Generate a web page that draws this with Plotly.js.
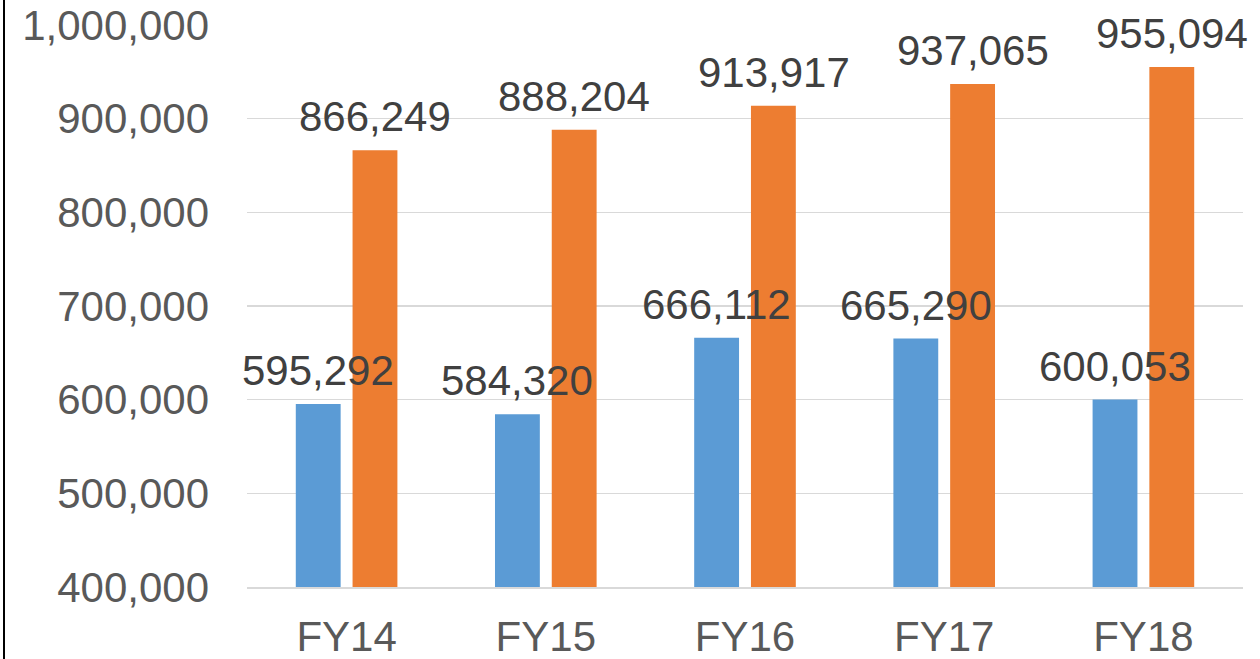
<!DOCTYPE html>
<html>
<head>
<meta charset="utf-8">
<script src="https://cdn.plot.ly/plotly-3.0.1.min.js"></script>
<style>
html,body{margin:0;padding:0;background:#fff;overflow:hidden;}
#chart{width:1260px;height:659px;}
</style>
</head>
<body>
<div id="chart"></div>
<script>
var categories = ["FY14", "FY15", "FY16", "FY17", "FY18"];
var seriesA = [595292, 584320, 666112, 665290, 600053];
var seriesB = [866249, 888204, 913917, 937065, 955094];
var yTicks = [400000, 500000, 600000, 700000, 800000, 900000, 1000000];

var fontFam = "'Liberation Sans', Arial, sans-serif";

function fmt(v){ return v.toLocaleString('en-US'); }

var traces = [
  {
    type: 'bar', x: categories, y: seriesA, name: 'A',
    marker: {color: '#5B9BD5'}, hoverinfo: 'x+y'
  },
  {
    type: 'bar', x: categories, y: seriesB, name: 'B',
    marker: {color: '#ED7D31'}, hoverinfo: 'x+y'
  }
];

// data labels drawn on top of all bars (as in the reference)
var annotations = [];
function addLabels(arr, shift){
  arr.forEach(function(v, i){
    annotations.push({
      x: categories[i], y: v, xref: 'x', yref: 'y',
      text: fmt(v), showarrow: false,
      xanchor: 'center', yanchor: 'bottom',
      xshift: shift, yshift: 8,
      font: {family: fontFam, size: 42, color: '#404040'}
    });
  });
}
addLabels(seriesA, -28.5);
addLabels(seriesB, 28.5);

var layout = {
  width: 1260, height: 659,
  margin: {l: 247, r: 17, t: 25, b: 72, autoexpand: false},
  paper_bgcolor: '#fff', plot_bgcolor: '#fff',
  showlegend: false,
  barmode: 'group', bargap: 0.43, bargroupgap: 0.21,
  font: {family: fontFam, size: 42, color: '#595959'},
  xaxis: {
    type: 'category', automargin: false,
    range: [-0.5, categories.length - 0.5],
    showgrid: false, showline: true, linecolor: '#d9d9d9', linewidth: 2,
    ticks: '', ticklabelstandoff: 12,
    tickfont: {family: fontFam, size: 42, color: '#595959'}
  },
  yaxis: {
    range: [400000, 1000000], automargin: false,
    tickvals: yTicks, tickformat: ',',
    showgrid: true, gridcolor: '#d9d9d9', gridwidth: 1.5,
    zeroline: false, showline: false, ticks: '',
    ticklabelstandoff: 37,
    tickfont: {family: fontFam, size: 42, color: '#595959'}
  },
  annotations: annotations,
  shapes: [{
    type: 'line', xref: 'paper', yref: 'paper',
    x0: (4 - 247) / 996, x1: (4 - 247) / 996, y0: -0.2, y1: 1.2,
    line: {color: '#000', width: 2}
  }]
};

Plotly.newPlot('chart', traces, layout, {displayModeBar: false, staticPlot: true});
</script>
</body>
</html>
